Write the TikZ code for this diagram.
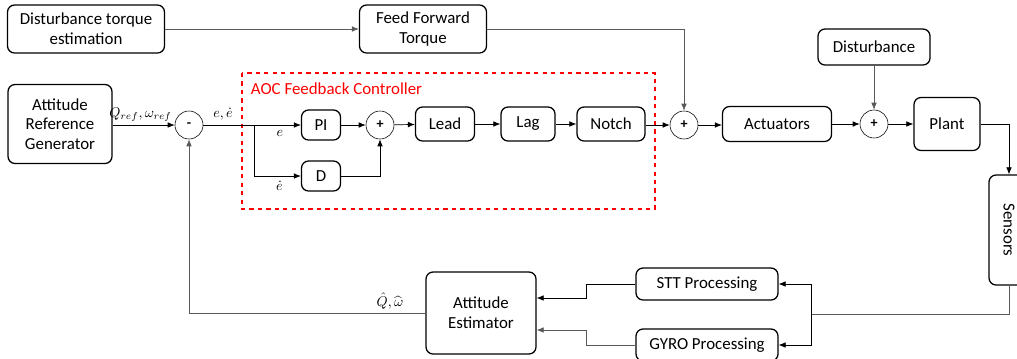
\documentclass[tikz,border=0pt]{standalone}
\usepackage{fontspec}
\setmainfont{Carlito}
\usepackage{amsmath}
\usetikzlibrary{arrows.meta, positioning, calc}

\tikzset{
    blockbox/.style={draw, rounded corners=5pt, line width=0.9pt, align=center, font=\large, inner sep=2pt},
    sumnode/.style={draw, circle, minimum size=28*0.025cm, inner sep=0pt, font=\bfseries},
    sigline/.style={-{Latex[length=5pt,width=4pt]}, line width=0.5pt},
    fbline/.style={sigline, draw=gray!70!black},
    redbox/.style={red, dashed, line width=0.8pt}
}

\begin{document}
\begin{tikzpicture}[x=0.025cm, y=-0.025cm]

  \clip (0,0) rectangle (1017,358);
  \useasboundingbox (0,0) rectangle (1017,358);

  % Top row: disturbance torque estimate and feed forward
  \node[blockbox, minimum width=157*0.025cm, minimum height=48*0.025cm] (dte) at (86,29) {Disturbance torque\\estimation};
  \node[blockbox, minimum width=127*0.025cm, minimum height=48*0.025cm] (fft) at (423,29) {Feed Forward\\Torque};

  % Main forward path
  \node[blockbox, minimum width=104*0.025cm, minimum height=79*0.025cm] (arg) at (60,124) {Attitude\\Reference\\Generator};
  \node[sumnode] (minus) at (189,125) {-};
  \node[blockbox, minimum width=39*0.025cm, minimum height=30*0.025cm] (pi) at (321,125) {PI};
  \node[blockbox, minimum width=39*0.025cm, minimum height=30*0.025cm] (der) at (321,176) {D};
  \node[sumnode] (plusa) at (380,125) {+};
  \node[blockbox, minimum width=59*0.025cm, minimum height=34*0.025cm] (lead) at (445,124) {Lead};
  \node[blockbox, minimum width=54*0.025cm, minimum height=34*0.025cm] (lag) at (528,124) {Lag};
  \node[blockbox, minimum width=68*0.025cm, minimum height=34*0.025cm] (notch) at (611,124) {Notch};
  \node[sumnode] (plusb) at (684,125) {+};
  \node[blockbox, minimum width=109*0.025cm, minimum height=35*0.025cm] (act) at (777,124) {Actuators};
  \node[blockbox, minimum width=112*0.025cm, minimum height=36*0.025cm] (dist) at (874,47) {Disturbance};
  \node[sumnode] (plusc) at (874,124) {+};
  \node[blockbox, minimum width=66*0.025cm, minimum height=53*0.025cm] (plant) at (947,124) {Plant};
  \node[blockbox, rotate=-90, minimum width=110*0.025cm, minimum height=40*0.025cm] (sens) at (1009,230) {Sensors};

  % Feedback path
  \node[blockbox, minimum width=142*0.025cm, minimum height=32*0.025cm] (stt) at (707,284) {STT Processing};
  \node[blockbox, minimum width=142*0.025cm, minimum height=32*0.025cm] (gyro) at (707,345) {GYRO Processing};
  \node[blockbox, minimum width=110*0.025cm, minimum height=82*0.025cm] (est) at (481,313) {Attitude\\Estimator};

  % Controller frame
  \draw[redbox] (242,73) rectangle (655,209);
  \node[red, anchor=west, font=\large] (aoc) at (246,89) {AOC Feedback Controller};

  % Connectors
  \draw[fbline] (dte) -- (fft);
  \draw[fbline] (fft.east) -| (plusb.north);
  \draw[sigline] (arg.east |- minus) -- (minus.west)
    node[pos=0.45, above=-1pt] {$Q_{ref},\omega_{ref}$};
  \coordinate (split) at (254,125);
  \draw[line width=0.5pt] (minus.east) -- (split);
  \node (eedot) at (223,114) {$e,\dot{e}$};
  \draw[sigline] (split) -- (pi.west) node[pos=0.55, below=0pt] {$e$};
  \draw[sigline] (split) |- (der.west) node[pos=0.77, below=0pt] {$\dot{e}$};
  \draw[sigline] (pi) -- (plusa);
  \draw[sigline] (der.east) -| (plusa.south);
  \draw[sigline] (plusa) -- (lead);
  \draw[sigline] (lead) -- (lag);
  \draw[sigline] (lag) -- (notch);
  \draw[sigline] (notch.east |- plusb) -- (plusb);
  \draw[sigline] (plusb) -- (act.west |- plusb);
  \draw[sigline] (act.east |- plusc) -- (plusc);
  \draw[fbline] (dist) -- (plusc);
  \draw[sigline] (plusc) -- (plant.west |- plusc);
  \draw[sigline] (plant.east) -| (sens.west);

  \coordinate (sbranch) at (811,314);
  \draw[fbline, -] (sens.east) |- (sbranch);
  \draw[sigline] (sbranch) |- (stt.east);
  \draw[sigline] (sbranch) |- (gyro.east);

  \coordinate (sttbend) at (586,298);
  \coordinate (gyrobend) at (586,330);
  \draw[sigline] (stt.west) -| (sttbend) -- (sttbend -| est.east);
  \draw[fbline] (gyro.west) -| (gyrobend) -- (gyrobend -| est.east);
  \draw[fbline] (est.west) -| (minus.south);
  \node (qhat) at (390,301) {$\hat{Q},\widehat{\omega}$};

\end{tikzpicture}
\end{document}
